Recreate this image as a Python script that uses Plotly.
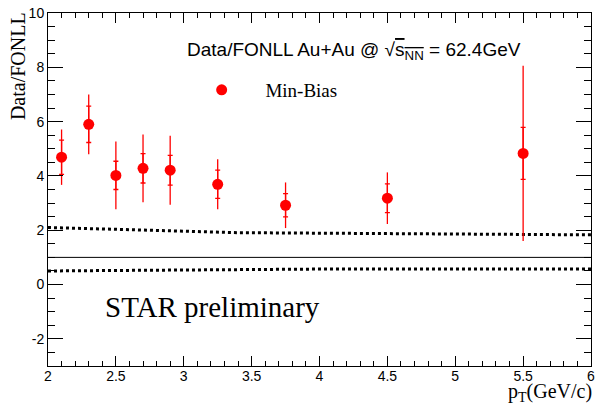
import plotly.graph_objects as go

# Data points (pT in GeV/c, Data/FONLL ratio)
pt = [2.1, 2.3, 2.5, 2.7, 2.9, 3.25, 3.75, 4.5, 5.5]
ratio = [4.69, 5.90, 4.02, 4.28, 4.21, 3.69, 2.92, 3.18, 4.83]
err_total = [1.02, 1.10, 1.25, 1.25, 1.27, 0.92, 0.84, 0.95, 3.23]
err_stat = [0.63, 0.67, 0.52, 0.54, 0.55, 0.52, 0.43, 0.53, 0.96]

# FONLL uncertainty band edges
band_pt = [2.0, 2.5, 2.9, 3.4, 4.0, 4.4, 5.0, 6.0]
band_upper = [2.10, 2.02, 1.98, 1.91, 1.89, 1.86, 1.84, 1.83]
band_lower = [0.50, 0.52, 0.55, 0.56, 0.57, 0.57, 0.57, 0.57]

unity_pt = [2.0, 6.0]
unity = [1.0, 1.0]

x_ticks = [2, 2.5, 3, 3.5, 4, 4.5, 5, 5.5, 6]
y_ticks = [-2, 0, 2, 4, 6, 8, 10]

RED = "#ff0000"
fig = go.Figure()

fig.add_trace(go.Scatter(x=band_pt, y=band_upper, mode="lines",
                         line=dict(color="black", width=3, dash="dot"),
                         showlegend=False, hoverinfo="skip"))
fig.add_trace(go.Scatter(x=band_pt, y=band_lower, mode="lines",
                         line=dict(color="black", width=3, dash="dot"),
                         showlegend=False, hoverinfo="skip"))
fig.add_trace(go.Scatter(x=unity_pt, y=unity, mode="lines",
                         line=dict(color="black", width=1),
                         showlegend=False, hoverinfo="skip"))

# total error bars (no caps)
fig.add_trace(go.Scatter(x=pt, y=ratio, mode="markers",
                         marker=dict(size=1, color="rgba(0,0,0,0)"),
                         error_y=dict(type="data", array=err_total, width=0,
                                      color=RED, thickness=1.3),
                         showlegend=False))
# stat error bars with small caps + markers
fig.add_trace(go.Scatter(x=pt, y=ratio, mode="markers",
                         name="\u00a0\u00a0\u00a0\u00a0\u00a0Min-Bias",
                         marker=dict(size=11, color=RED, symbol="circle"),
                         error_y=dict(type="data", array=err_stat, width=2.5,
                                      color=RED, thickness=1.3)))

axis_common = dict(showline=True, linecolor="black", linewidth=1, mirror="allticks",
                   ticks="inside", tickcolor="black", showgrid=False, zeroline=False,
                   tickfont=dict(family="Liberation Sans", size=14, color="black"))

fig.update_xaxes(range=[2, 6], tickvals=x_ticks, ticktext=[f"{v:g}" for v in x_ticks],
                 ticklen=10, ticklabelstandoff=-3,
                 minor=dict(dtick=0.1, tick0=2, ticks="inside", ticklen=5, tickcolor="black"),
                 **axis_common)
fig.update_yaxes(range=[-3, 10], tickvals=y_ticks, ticktext=[f"{v:g}" for v in y_ticks],
                 ticklen=15,
                 minor=dict(dtick=0.5, tick0=0, ticks="inside", ticklen=7, tickcolor="black"),
                 **axis_common)

serif = "Liberation Serif"
fig.update_layout(
    width=600, height=404,
    margin=dict(l=48, r=5, t=13, b=38),
    paper_bgcolor="white", plot_bgcolor="white",
    legend=dict(x=0.283, y=0.782, xanchor="left", yanchor="middle",
                bgcolor="rgba(0,0,0,0)", borderwidth=0,
                font=dict(family=serif, size=19, color="black")),
    annotations=[
        dict(text="Data/FONLL Au+Au @ √<span style='text-decoration:overline'>s<sub>NN</sub></span> = 62.4GeV",
             xref="paper", yref="paper", x=0.563, y=0.892, xanchor="center", yanchor="middle",
             showarrow=False, font=dict(family="Liberation Sans", size=19, color="black")),
        dict(text="STAR preliminary", xref="paper", yref="paper", x=0.102, y=0.167,
             xanchor="left", yanchor="middle", showarrow=False,
             font=dict(family=serif, size=29, color="black")),
        dict(text="Data/FONLL", xref="paper", yref="paper", x=-0.055, y=0.85,
             xanchor="center", yanchor="middle", textangle=-90, showarrow=False,
             font=dict(family=serif, size=20, color="black")),
        dict(text="p<sub>T</sub>(GeV/c)", xref="paper", yref="paper", x=1.0055, y=-0.075,
             xanchor="right", yanchor="middle", showarrow=False,
             font=dict(family=serif, size=20, color="black")),
    ],
)

fig.write_html("out.html")
